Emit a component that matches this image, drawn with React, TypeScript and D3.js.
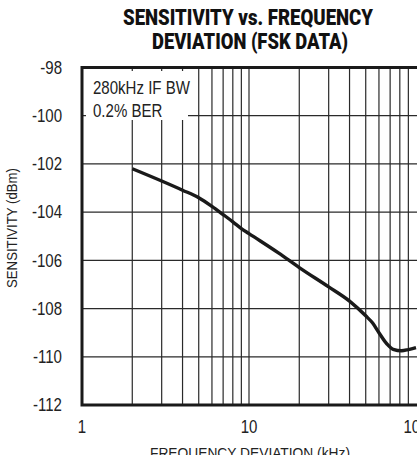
import React from "react";
import * as d3 from "d3";

const freqKHz = [2, 3, 4, 5, 6, 7, 8, 9, 10, 15, 20, 30, 40, 50, 55, 60, 67, 73, 82, 90, 100];
const sensitivityDbm = [
  -102.2, -102.71, -103.09, -103.4, -103.76, -104.1, -104.4, -104.68, -104.89, -105.69,
  -106.3, -107.1, -107.69, -108.3, -108.6, -109.0, -109.47, -109.69, -109.75, -109.7, -109.62,
];
const xTickLabels = [1, 10, 100];
const yTickLabels = [-98, -100, -102, -104, -106, -108, -110, -112];
const xGridValues = [2, 3, 4, 5, 6, 7, 8, 9, 10, 20, 30, 40, 50, 60, 70, 80, 90];
const yGridValues = [-100, -102, -104, -106, -108, -110];
const titleLines = ["SENSITIVITY vs. FREQUENCY", "DEVIATION (FSK DATA)"];
const legendLines = ["280kHz IF BW", "0.2% BER"];
const xTitle = "FREQUENCY DEVIATION (kHz)";
const yTitle = "SENSITIVITY (dBm)";

const W = 417;
const H = 455;
const left = 82;
const right = 416;
const top = 67.5;
const bottom = 405;
const FONT = "'Liberation Sans', Arial, sans-serif";

export default function App() {
  const x = d3.scaleLog().domain([1, 100]).range([left, right]);
  const y = d3.scaleLinear().domain([-112, -98]).range([bottom, top]);
  const pts: [number, number][] = freqKHz.map((f, i) => [f, sensitivityDbm[i]]);
  const line = d3
    .line<[number, number]>()
    .x((d) => x(d[0]))
    .y((d) => y(d[1]))
    .curve(d3.curveMonotoneX);

  const narrow = 0.86;

  return (
    <svg
      width={W}
      height={H}
      viewBox={`0 0 ${W} ${H}`}
      style={{ position: "absolute", left: 0, top: 0, background: "#fff" }}
    >
      <rect x={0} y={0} width={W} height={H} fill="#fff" />
      {/* Title */}
      <text x={248} y={25} textAnchor="middle" fontFamily="Roboto, sans-serif" fontWeight={900}
        fontSize={22} textLength={250} lengthAdjust="spacingAndGlyphs" fill="#111">
        {titleLines[0]}
      </text>
      <text x={250} y={48.5} textAnchor="middle" fontFamily="Roboto, sans-serif" fontWeight={900}
        fontSize={22} textLength={196} lengthAdjust="spacingAndGlyphs" fill="#111">
        {titleLines[1]}
      </text>

      {/* Grid */}
      {xGridValues.map((v) => (
        <line key={"gx" + v} x1={x(v)} x2={x(v)} y1={top} y2={bottom} stroke="#2a2a2a" strokeWidth={1.2} />
      ))}
      {yGridValues.map((v) => (
        <line key={"gy" + v} x1={left} x2={W + 2} y1={y(v)} y2={y(v)} stroke="#2a2a2a" strokeWidth={1.2} />
      ))}

      {/* Legend box */}
      <rect x={86} y={71} width={102} height={49} fill="#fff" />
      {legendLines.map((t, i) => (
        <text key={t} transform={`translate(93, ${94 + i * 23}) scale(${narrow},1)`}
          fontFamily={FONT} fontSize={17.5} fill="#222">
          {t}
        </text>
      ))}

      {/* Frame */}
      <path d={`M${W + 3},${top} H${left} V${bottom} H${W + 3}`} fill="none" stroke="#1a1a1a" strokeWidth={3} />

      {/* Curve */}
      <path d={line(pts) || ""} fill="none" stroke="#1a1a1a" strokeWidth={3.4} strokeLinejoin="round" />

      {/* Y tick labels */}
      {yTickLabels.map((v) => (
        <text key={"yl" + v} transform={`translate(62, ${y(v) + 6.3}) scale(${narrow},1)`}
          textAnchor="end" fontFamily={FONT} fontSize={17.5} fill="#222">
          {v}
        </text>
      ))}
      {/* X tick labels */}
      {xTickLabels.map((v) => (
        <text key={"xl" + v} transform={`translate(${x(v)}, 433) scale(${narrow},1)`}
          textAnchor="middle" fontFamily={FONT} fontSize={17.5} fill="#222">
          {v}
        </text>
      ))}

      {/* Axis titles */}
      <text x={250} y={458} textAnchor="middle" fontFamily={FONT} fontSize={14}
        textLength={200} lengthAdjust="spacingAndGlyphs" fill="#222">
        {xTitle}
      </text>
      <text transform={`translate(17, 228) rotate(-90)`} textAnchor="middle" fontFamily={FONT} fontSize={14}
        textLength={120} lengthAdjust="spacingAndGlyphs" fill="#222">
        {yTitle}
      </text>
    </svg>
  );
}
